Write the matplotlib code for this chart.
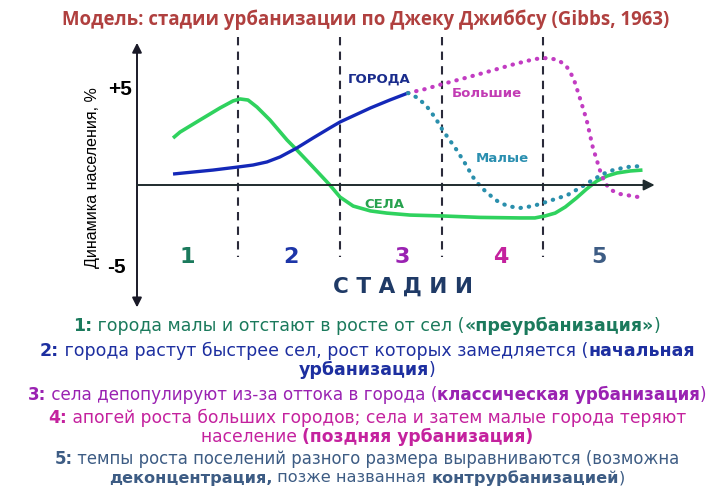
import matplotlib
matplotlib.use('Agg')
import matplotlib.pyplot as plt

W, H = 721, 488

# --- data (stage units on x, % on y) ---
stage_bounds = [1, 2, 3, 4]
stage_names = ['1', '2', '3', '4', '5']
stage_pos = [0.5, 1.52, 2.61, 3.58, 4.55]
stage_colors = ['#1b7a5c', '#1d35a8', '#9a22b2', '#c4229e', '#3d5c84']

villages_x = [0.355, 0.424, 0.62, 0.818, 0.946, 1.015, 1.094, 1.182, 1.31, 1.478, 1.576, 1.734,
              1.90, 2.0, 2.13, 2.30, 2.46, 2.69, 3.01, 3.38, 3.77, 3.92, 4.02, 4.12, 4.22,
              4.33, 4.43, 4.53, 4.63, 4.73, 4.86, 4.98]
villages_y = [2.61, 2.94, 3.61, 4.28, 4.67, 4.78, 4.72, 4.33, 3.61, 2.5, 1.94, 1.0,
              0.0, -0.67, -1.17, -1.44, -1.56, -1.67, -1.72, -1.8, -1.83, -1.83, -1.72, -1.56, -1.22,
              -0.72, -0.22, 0.22, 0.5, 0.67, 0.78, 0.83]

cities_x = [0.355, 0.749, 0.995, 1.143, 1.28, 1.41, 1.576, 1.734, 1.90, 2.0, 2.15, 2.30, 2.49, 2.67]
cities_y = [0.61, 0.83, 1.0, 1.11, 1.28, 1.56, 2.06, 2.61, 3.17, 3.5, 3.89, 4.28, 4.72, 5.11]

big_x = [2.67, 2.84, 3.01, 3.23, 3.48, 3.72, 3.92, 4.05, 4.15, 4.23, 4.30, 4.36, 4.43, 4.49,
         4.56, 4.61, 4.67, 4.76, 4.94]
big_y = [5.11, 5.33, 5.61, 5.94, 6.33, 6.72, 7.0, 7.06, 6.94, 6.61, 5.94, 4.89, 3.61, 2.11,
         0.83, 0.11, -0.28, -0.5, -0.67]

small_x = [2.67, 2.77, 2.86, 2.94, 3.01, 3.15, 3.23, 3.31, 3.38, 3.45, 3.55, 3.65, 3.77, 3.90,
           4.0, 4.12, 4.24, 4.36, 4.49, 4.59, 4.69, 4.83, 4.98]
small_y = [5.11, 4.83, 4.33, 3.72, 3.06, 1.94, 1.22, 0.44, -0.06, -0.44, -0.89, -1.17, -1.28, -1.17,
           -1.0, -0.78, -0.56, -0.17, 0.28, 0.61, 0.83, 1.0, 1.06]

title = 'Модель: стадии урбанизации по Джеку Джиббсу (Gibbs, 1963)'
ylabel = 'Динамика населения, %'

# bottom notes: (pieces, color, y pixel, font size)
notes = [
    ([('1:', True), (' города малы и отстают в росте от сел (', False), ('«преурбанизация»', True), (')', False)], '#1b7a5c', 326, 12.5),
    ([('2:', True), (' города растут быстрее сел, рост которых замедляется (', False), ('начальная', True)], '#1d2fa0', 351, 12.5),
    ([('урбанизация', True), (')', False)], '#1d2fa0', 370, 12.5),
    ([('3:', True), (' села депопулируют из-за оттока в города (', False), ('классическая урбанизация', True), (')', False)], '#9a22b2', 395, 12.1),
    ([('4:', True), (' апогей роста больших городов; села и затем малые города теряют', False)], '#c4229e', 418, 12.3),
    ([('население ', False), ('(поздняя урбанизация)', True)], '#c4229e', 437, 12.3),
    ([('5:', True), (' темпы роста поселений разного размера выравниваются (возможна', False)], '#3d5c84', 459, 11.9),
    ([('деконцентрация,', True), (' позже названная ', False), ('контрурбанизацией', True), (')', False)], '#3d5c84', 478, 11.6),
]

fig = plt.figure(figsize=(W / 100, H / 100), dpi=100)
ax = fig.add_axes([0, 0, 1, 1])
ax.set_xlim(-137 / 101.5, (W - 137) / 101.5)
ax.set_ylim((185 - H) / 18, 185 / 18)
ax.axis('off')

# axes arrows
ax.annotate('', xy=(0, 7.9), xytext=(0, -6.8),
            arrowprops=dict(arrowstyle='<|-|>', color='#1a1a28', lw=1.4, mutation_scale=14, shrinkA=0, shrinkB=0))
ax.annotate('', xy=(5.1, 0), xytext=(0, 0),
            arrowprops=dict(arrowstyle='-|>', color='#1f2b2e', lw=1.4, mutation_scale=16, shrinkA=0, shrinkB=0))

for b in stage_bounds:
    ax.plot([b, b], [8.2, -4.0], color='#2a2a3a', lw=1.5, ls=(0, (4, 3)))

ax.plot(villages_x, villages_y, color='#2fd25e', lw=2.6, solid_capstyle='butt', solid_joinstyle='round')
ax.plot(cities_x, cities_y, color='#1428b8', lw=2.4, solid_capstyle='butt', solid_joinstyle='round')
ax.plot(big_x, big_y, color='#c23cc2', lw=3.0, ls=(0, (0.1, 1.9)), dash_capstyle='round')
ax.plot(small_x, small_y, color='#2a8fac', lw=3.0, ls=(0, (0.1, 1.9)), dash_capstyle='round')

# curve labels
ax.text(2.39, 5.89, 'ГОРОДА', color='#1a2c8c', fontsize=9.5, fontweight='bold', ha='center', va='center')
ax.text(3.45, 5.11, 'Большие', color='#c23cb4', fontsize=9.5, fontweight='bold', ha='center', va='center')
ax.text(3.6, 1.5, 'Малые', color='#2a8fb0', fontsize=9.5, fontweight='bold', ha='center', va='center')
ax.text(2.44, -1.11, 'СЕЛА', color='#27a24e', fontsize=9.5, fontweight='bold', ha='center', va='center')

# tick labels and stage numbers
ax.text(-0.17, 5.28, '+5', fontsize=15, fontweight='bold', ha='center', va='center', family='Liberation Sans')
ax.text(-0.2, -4.61, '-5', fontsize=15, fontweight='bold', ha='center', va='center', family='Liberation Sans')
ax.text(-0.44, 0.39, ylabel, fontsize=11.5, rotation=90, ha='center', va='center', family='Liberation Sans')
for name, xp, c in zip(stage_names, stage_pos, stage_colors):
    ax.text(xp, -4.0, name, color=c, fontsize=16, fontweight='bold', ha='center', va='center')
ax.text(2.62, -5.67, 'С Т А Д И И', color='#1f3a66', fontsize=15.5, fontweight='bold', ha='center', va='center')

fig.text(366 / W, 1 - 20 / H, title, color='#b0403f', fontsize=13.4, fontweight='bold',
         ha='center', va='center', family='Open Sans')

# bottom notes, mixed bold / regular pieces centred on one line
r = fig.canvas.get_renderer()
note_font = 'DejaVu Sans'


def piece_width(s, bold, size):
    t1 = fig.text(0, 0, s + '|', fontsize=size, fontweight='bold' if bold else 'normal', family=note_font)
    t2 = fig.text(0, 0, '|', fontsize=size, fontweight='bold' if bold else 'normal', family=note_font)
    w = t1.get_window_extent(r).width - t2.get_window_extent(r).width
    t1.remove()
    t2.remove()
    return w


cx = 367
for pieces, color, py, size in notes:
    widths = [piece_width(s, b, size) for s, b in pieces]
    x = cx - sum(widths) / 2
    for (s, b), w in zip(pieces, widths):
        fig.text(x / W, 1 - py / H, s, color=color, fontsize=size, fontweight='bold' if b else 'normal',
                 ha='left', va='center', family=note_font)
        x += w

fig.savefig('out.png', dpi=100, facecolor='white')
